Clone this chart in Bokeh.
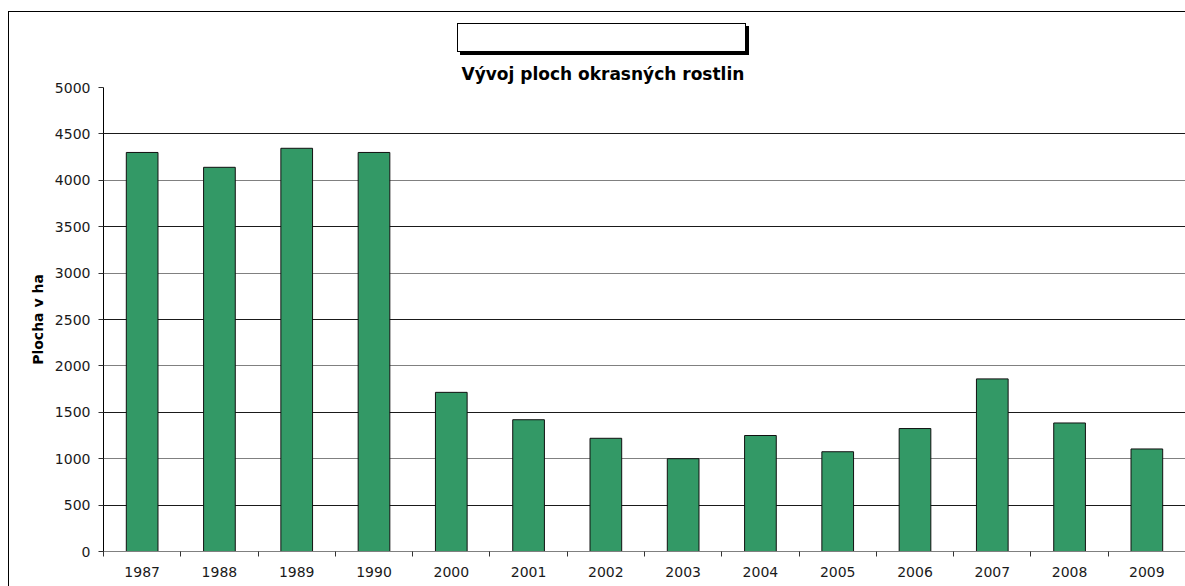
from bokeh.plotting import figure
from bokeh.models import Range1d, FixedTicker, Grid, ColumnDataSource, Title
from bokeh.embed import file_html
from bokeh.resources import INLINE

title_text = "Vývoj ploch okrasných rostlin"
y_label = "Plocha v ha"
years = ["1987", "1988", "1989", "1990", "2000", "2001", "2002",
         "2003", "2004", "2005", "2006", "2007", "2008", "2009"]
area = [4300, 4140, 4345, 4300, 1715, 1420, 1220,
        1000, 1250, 1075, 1325, 1860, 1385, 1105]
y_ticks = [0, 500, 1000, 1500, 2000, 2500, 3000, 3500, 4000, 4500, 5000]

n = len(years)
centers = [i + 0.5 for i in range(n)]
src = ColumnDataSource(dict(x=centers, top=area, year=years))

p = figure(width=1185, height=586, x_range=Range1d(0, n), y_range=Range1d(0, 5000),
           output_backend="svg", toolbar_location=None, title_location=None,
           min_border_left=103, min_border_right=0, min_border_top=87, min_border_bottom=35)
p.outline_line_color = None
p.background_fill_color = "white"
p.border_fill_color = None
# painted behind the transparent canvas border: title box (white fill, black border, black shadow)
# and the outer chart-area frame (left and top edges)
p.styles = {
    "background-color": "white",
    "background-image": ("linear-gradient(#fff,#fff), linear-gradient(#000,#000), "
                         "linear-gradient(#000,#000), linear-gradient(#000,#000), "
                         "linear-gradient(#000,#000)"),
    "background-size": "287px 27px, 289px 29px, 289px 29px, 1px 100%, 100% 1px",
    "background-position": "458px 24px, 457px 23px, 460px 26px, 8px 11px, 8px 11px",
    "background-repeat": "no-repeat",
    "max-width": "none",
    "overflow": "visible",
}
p.xgrid.visible = False
p.ygrid.visible = False

g1 = Grid(dimension=1, ticker=FixedTicker(ticks=[t for t in y_ticks if t % 1000 == 500]),
          grid_line_color="#1a1a1a", grid_line_width=1)
g2 = Grid(dimension=1, ticker=FixedTicker(ticks=[t for t in y_ticks if t % 1000 == 0 and 0 < t < 5000]),
          grid_line_color="#808080", grid_line_width=1)
g3 = Grid(dimension=1, ticker=FixedTicker(ticks=[5000]),
          grid_line_color="#c8c8c8", grid_line_width=1)
for g in (g1, g2, g3):
    p.add_layout(g)

p.vbar(x="x", top="top", width=0.41, bottom=0, source=src,
       fill_color="#339966", line_color="#111111", line_width=1)

xa = p.xaxis[0]
xa.ticker = FixedTicker(ticks=centers, minor_ticks=list(range(n + 1)))
xa.major_label_overrides = {c: y for c, y in zip(centers, years)}
xa.major_tick_out = 0
xa.major_tick_in = 0
xa.minor_tick_out = 5
xa.minor_tick_in = 0
xa.minor_tick_line_color = "#333333"
xa.axis_line_color = "#808080"
xa.major_label_standoff = 10
xa.major_label_text_font = "DejaVu Sans"
xa.major_label_text_font_size = "14px"
xa.major_label_text_color = "#1a1a1a"

ya = p.yaxis[0]
ya.ticker = FixedTicker(ticks=y_ticks)
ya.major_tick_out = 5
ya.major_tick_in = 0
ya.minor_tick_line_color = None
ya.axis_line_color = "black"
ya.major_tick_line_color = "#333333"
ya.major_label_standoff = 8
ya.major_label_text_font = "DejaVu Sans"
ya.major_label_text_font_size = "14px"
ya.major_label_text_color = "#1a1a1a"
ya.axis_label = y_label
ya.axis_label_text_font = "DejaVu Sans"
ya.axis_label_text_font_size = "14px"
ya.axis_label_text_font_style = "bold"
ya.axis_label_text_color = "black"
ya.axis_label_standoff = 6

# title text; large bottom padding lifts it above the frame (box itself is painted via CSS)
chart_title = Title(text=title_text, align="left", offset=354, standoff=0,
                    text_font="DejaVu Sans", text_font_size="17px", text_font_style="bold",
                    text_color="black", background_fill_color=None,
                    border_line_color=None, padding=(4, 4, 42, 4))
p.add_layout(chart_title, "above")

open("out.html", "w").write(file_html(p, INLINE))
